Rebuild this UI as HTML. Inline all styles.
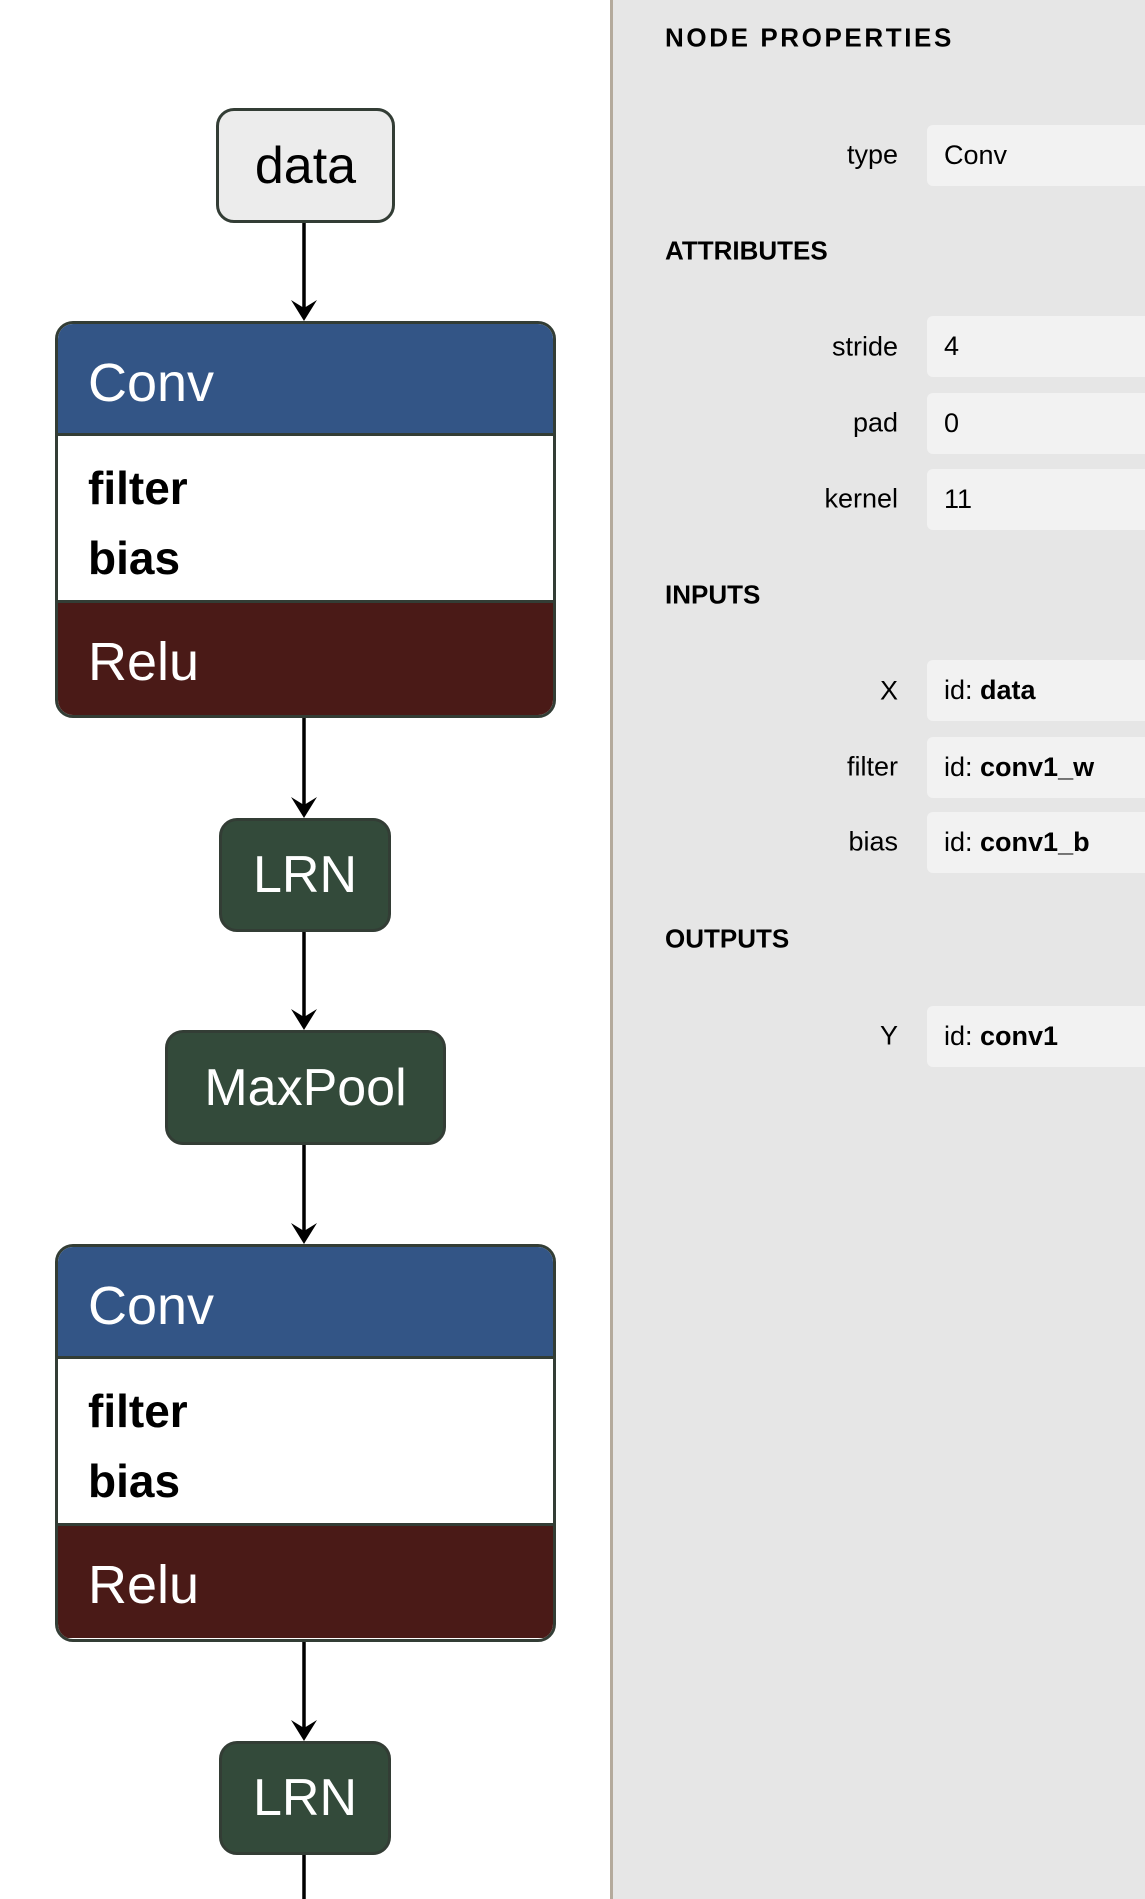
<!DOCTYPE html>
<html><head><meta charset="utf-8"><style>
*{margin:0;padding:0;box-sizing:border-box}
body{width:1145px;height:1899px;background:#fff;position:relative;overflow:hidden;font-family:"Liberation Sans",sans-serif}
.n{position:absolute;border:3.5px solid #333d35;border-radius:18px;color:#fff;font-size:52px;display:flex;align-items:center;justify-content:center;overflow:hidden}
.g{background:#334a3a}
.d{background:#ececec;color:#000}
.blk{position:absolute;left:55px;width:501px;border:3.5px solid #333d35;border-radius:18px;overflow:hidden}
.blk .h{background:#335586;color:#fff;font-size:54px;height:112px;line-height:118px;padding-left:30px;border-bottom:3px solid #333d35}
.blk .w{background:#fff;height:167px;padding-left:30px;font-weight:bold;font-size:46px;padding-top:17px;line-height:70px;border-bottom:3px solid #333d35}
.blk .r{background:#4a1a17;color:#fff;font-size:54px;height:112px;line-height:118px;padding-left:30px}
#panel{position:absolute;left:610px;top:0;width:535px;height:1899px;background:#e6e6e6;border-left:3px solid #b4aa9c}
.sec{position:absolute;left:52px;font-weight:bold;font-size:26px;transform:translateY(-50%)}
.lab{position:absolute;right:247px;font-size:27px;transform:translateY(-50%)}
.val{position:absolute;left:314px;width:260px;height:61px;background:#f2f2f2;border-radius:6px;font-size:27px;line-height:61px;padding-left:17px}
</style></head><body>
<svg width="610" height="1899" style="position:absolute;left:0;top:0">
<g stroke="#000" stroke-width="3.5">
<line x1="304" y1="223" x2="304" y2="316"/>
<line x1="304" y1="718" x2="304" y2="813"/>
<line x1="304" y1="932" x2="304" y2="1025"/>
<line x1="304" y1="1145" x2="304" y2="1239"/>
<line x1="304" y1="1642" x2="304" y2="1736"/>
<line x1="304" y1="1855" x2="304" y2="1899"/>
</g>
<g fill="#000">
<path d="M291 300 L304 321 L317 300 L304 308 Z"/>
<path d="M291 797 L304 818 L317 797 L304 805 Z"/>
<path d="M291 1009 L304 1030 L317 1009 L304 1017 Z"/>
<path d="M291 1223 L304 1244 L317 1223 L304 1231 Z"/>
<path d="M291 1720 L304 1741 L317 1720 L304 1728 Z"/>
</g>
</svg>
<div class="n d" style="left:216px;top:108px;width:179px;height:115px">data</div>
<div class="blk" style="top:321px;height:397px"><div class="h">Conv</div><div class="w">filter<br>bias</div><div class="r">Relu</div></div>
<div class="n g" style="left:219px;top:818px;width:172px;height:114px">LRN</div>
<div class="n g" style="left:165px;top:1030px;width:281px;height:115px">MaxPool</div>
<div class="blk" style="top:1244px;height:398px"><div class="h">Conv</div><div class="w">filter<br>bias</div><div class="r">Relu</div></div>
<div class="n g" style="left:219px;top:1741px;width:172px;height:114px">LRN</div>
<div id="panel">
<div class="sec" style="top:38px;letter-spacing:2.6px">NODE PROPERTIES</div>
<div class="lab" style="top:155px">type</div><div class="val" style="top:125px">Conv</div>
<div class="sec" style="top:251px">ATTRIBUTES</div>
<div class="lab" style="top:347px">stride</div><div class="val" style="top:316px">4</div>
<div class="lab" style="top:423px">pad</div><div class="val" style="top:393px">0</div>
<div class="lab" style="top:499px">kernel</div><div class="val" style="top:469px">11</div>
<div class="sec" style="top:595px">INPUTS</div>
<div class="lab" style="top:691px">X</div><div class="val" style="top:660px">id: <b>data</b></div>
<div class="lab" style="top:767px">filter</div><div class="val" style="top:737px">id: <b>conv1_w</b></div>
<div class="lab" style="top:842px">bias</div><div class="val" style="top:812px">id: <b>conv1_b</b></div>
<div class="sec" style="top:939px">OUTPUTS</div>
<div class="lab" style="top:1036px">Y</div><div class="val" style="top:1006px">id: <b>conv1</b></div>
</div>
</body></html>
